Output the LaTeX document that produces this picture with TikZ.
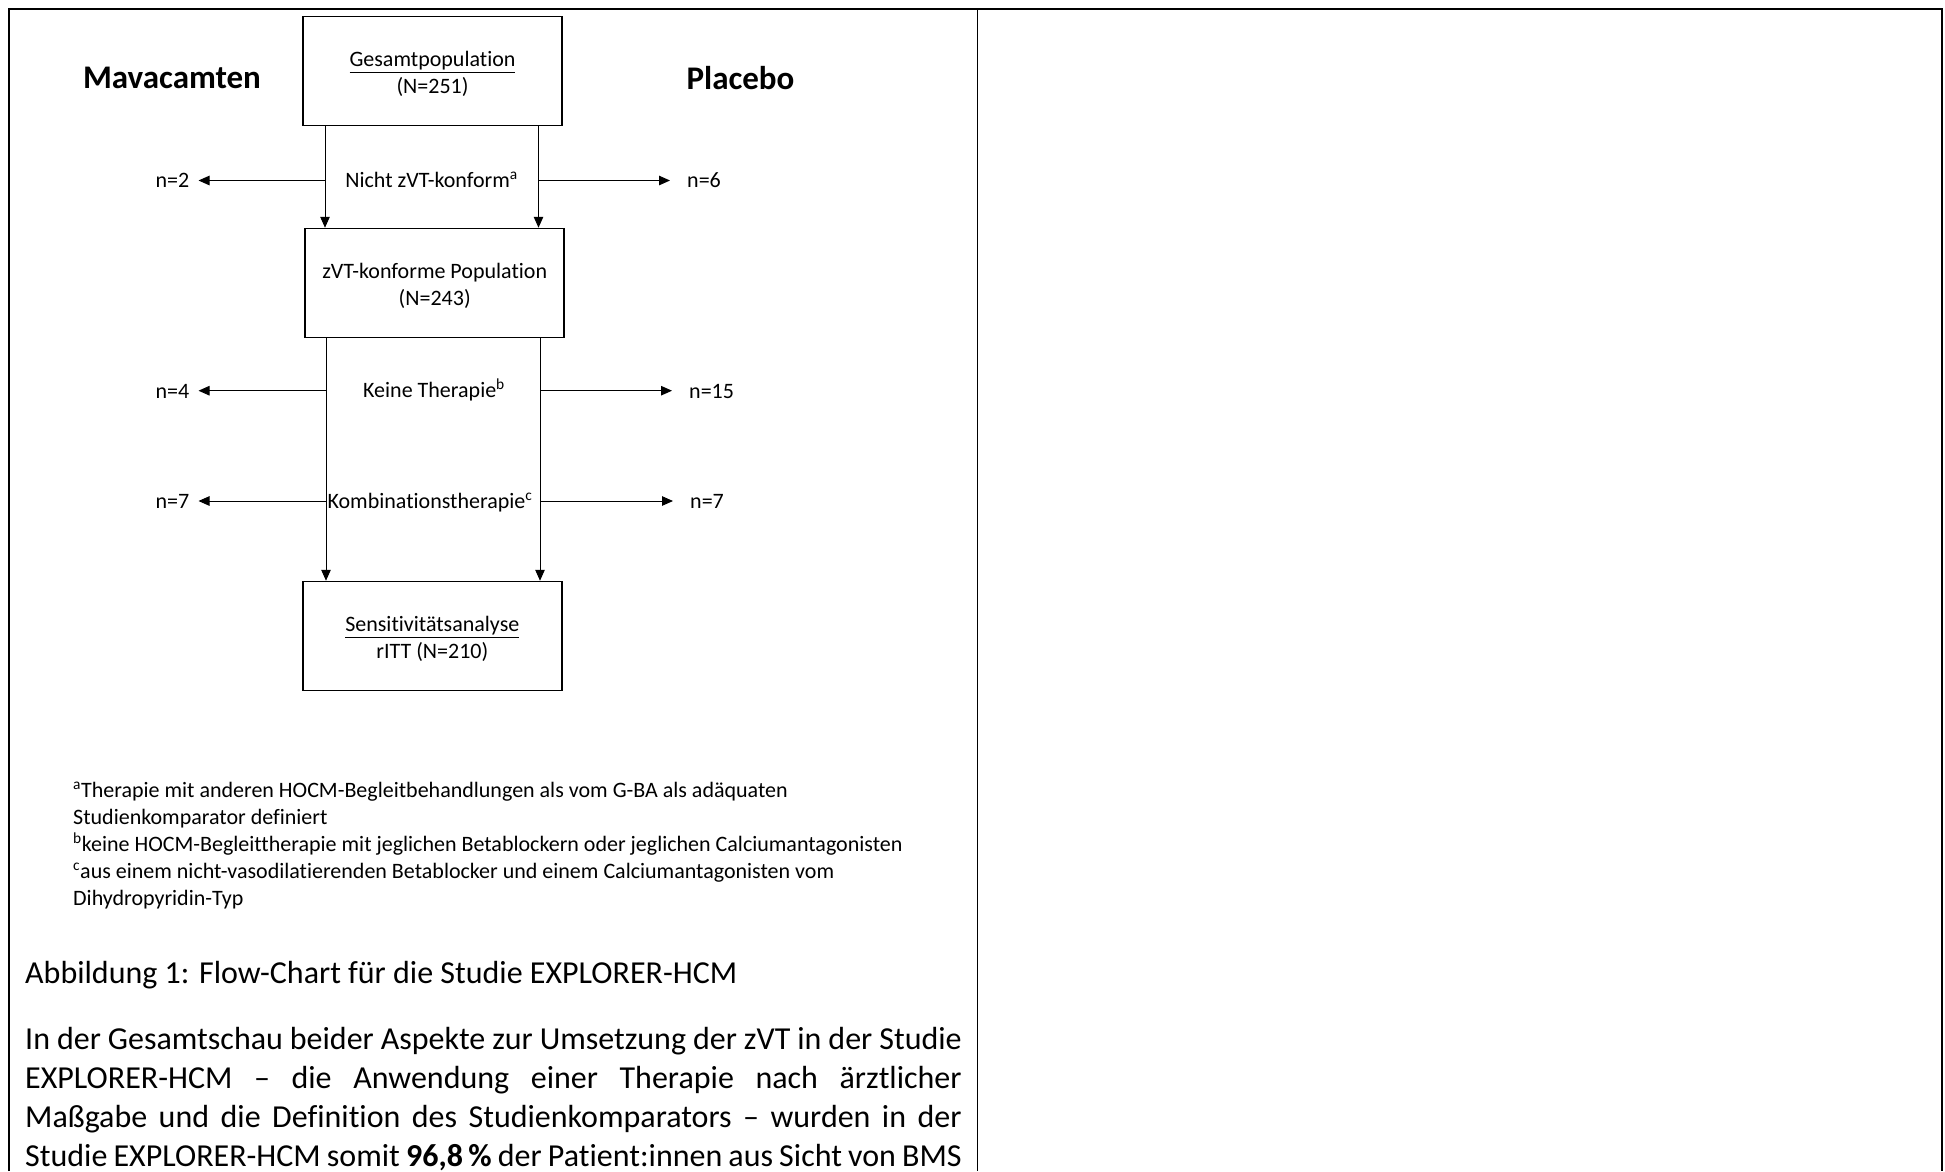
\documentclass[tikz,border=0pt]{standalone}
\usepackage{fontspec}
\setmainfont{Carlito}[Ligatures={TeX,NoCommon,NoRequired,NoContextual},Contextuals=NoAlternate]
\usetikzlibrary{arrows.meta, positioning}

\newcommand{\boxlines}[2]{\raisebox{-4pt}[\height][\depth]{\begin{tabular}{@{}c@{}}#1\\#2\end{tabular}}}

\tikzset{
  box/.style={draw, line width=1.5pt, minimum width=259pt, minimum height=109pt, inner sep=0pt, font=\fontsize{22}{27}\selectfont},
  lab/.style={font=\fontsize{22}{27}\selectfont, inner sep=0pt, anchor=base},
  arm/.style={font=\fontsize{33}{40}\selectfont\bfseries, inner sep=0pt, anchor=base},
  numl/.style={lab, inner xsep=9pt, anchor=base east},
  numr/.style={lab, inner xsep=17pt, anchor=base west},
  foot/.style={lab, anchor=base west},
  body/.style={font=\fontsize{32}{39}\selectfont, inner sep=0pt, anchor=base west},
  arr/.style={line width=1pt, -{Triangle[length=11pt,width=9.5pt]}},
}

\begin{document}
\begin{tikzpicture}[x=1pt, y=-1pt]
\useasboundingbox (0,0) rectangle (1945,1171);

% table frame
\draw[line width=1.8pt] (8.7,1171) -- (8.7,8.7) -- (1942,8.7) -- (1942,1171);
\draw[line width=1.8pt] (977.5,8.7) -- (977.5,1171);

% boxes
\node[box] (ges) at (432.5,71) {\boxlines{\underline{Gesamtpopulation}}{(N=251)}};
\node[box] (zvt) at (434.7,283) {\boxlines{zVT-konforme Population}{(N=243)}};
\node[box] (sens) at (432.3,636) {\boxlines{\underline{Sensitivitätsanalyse}}{rITT (N=210)}};

\node[arm] (mava) at (172,88) {Mavacamten};
\node[arm] (plac) at (740.5,89) {Placebo};

% columns
\coordinate (cl) at (325,0);
\coordinate (cr) at (538.5,0);
\coordinate (dl) at (326,0);
\coordinate (dr) at (540,0);

\draw[arr] (ges.south -| cl) -- (zvt.north -| cl);
\draw[arr] (ges.south -| cr) -- (zvt.north -| cr);
\draw[arr] (zvt.south -| dl) -- (sens.north -| dl);
\draw[arr] (zvt.south -| dr) -- (sens.north -| dr);

% exclusions
\node[lab] (nz) at (431.6,187) {Nicht zVT-konform\textsuperscript{a}};
\node[lab] (kt) at (434,397.5) {Keine Therapie\textsuperscript{b}};
\node[lab] (kb) at (430,508) {Kombinationstherapie\textsuperscript{c}};

\coordinate (l1) at (325,180.5);
\coordinate (r1) at (538.5,180.5);
\coordinate (l2) at (326,390.7);
\coordinate (r2) at (540,390.7);
\coordinate (l3) at (326,501);
\coordinate (r3) at (540,501);

\node[numl] (nl1) at (198.5,187.5) {n=2};
\node[numr] (nr1) at (670,187.5) {n=6};
\node[numl] (nl2) at (198.5,398) {n=4};
\node[numr] (nr2) at (672,398) {n=15};
\node[numl] (nl3) at (198.5,508) {n=7};
\node[numr] (nr3) at (673,508) {n=7};

\draw[arr] (l1) -- (l1 -| nl1.east);
\draw[arr] (r1) -- (r1 -| nr1.west);
\draw[arr] (l2) -- (l2 -| nl2.east);
\draw[arr] (r2) -- (r2 -| nr2.west);
\draw[arr] (l3) -- (l3 -| nl3.east);
\draw[arr] (r3) -- (r3 -| nr3.west);

% footnotes
\node[foot] (fa) at (73,797) {\textsuperscript{a}Therapie mit anderen HOCM-Begleitbehandlungen als vom G-BA als adäquaten};
\node[foot] (fa2) at (73,824) {Studienkomparator definiert};
\node[foot] (fb) at (73,851) {\textsuperscript{b}keine HOCM-Begleittherapie mit jeglichen Betablockern oder jeglichen Calciumantagonisten};
\node[foot] (fc) at (73,878) {\textsuperscript{c}aus einem nicht-vasodilatierenden Betablocker und einem Calciumantagonisten vom};
\node[foot] (fc2) at (73,905) {Dihydropyridin-Typ};

% caption and text
\node[body] (cap) at (25,983) {Abbildung 1: Flow-Chart für die Studie EXPLORER-HCM};
\node[body] (p1) at (25,1049) {\makebox[936.5pt][s]{In der Gesamtschau beider Aspekte zur Umsetzung der zVT in der Studie}};
\node[body] (p2) at (25,1088) {\makebox[936.5pt][s]{EXPLORER-HCM – die Anwendung einer Therapie nach ärztlicher}};
\node[body] (p3) at (25,1127) {\makebox[936.5pt][s]{Maßgabe und die Definition des Studienkomparators – wurden in der}};
\node[body] (p4) at (25,1166) {\makebox[936.5pt][s]{Studie EXPLORER-HCM somit \textbf{96,8\,\%} der Patient:innen aus Sicht von BMS}};

\end{tikzpicture}
\end{document}
